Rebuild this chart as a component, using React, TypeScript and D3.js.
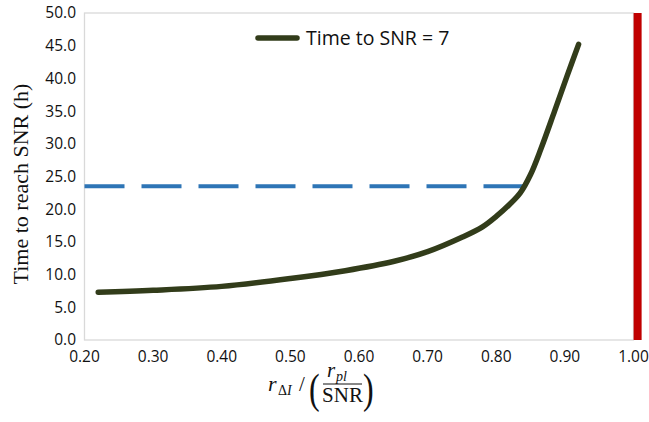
import React from "react";
import * as d3 from "d3";

const xTicks = [0.2, 0.3, 0.4, 0.5, 0.6, 0.7, 0.8, 0.9, 1.0];
const yTicks = [0, 5, 10, 15, 20, 25, 30, 35, 40, 45, 50];
const curveX = [0.22, 0.3, 0.4, 0.5, 0.58, 0.65, 0.7, 0.75, 0.78, 0.8, 0.82, 0.835, 0.85, 0.865, 0.885, 0.903, 0.92];
const curveY = [7.3, 7.6, 8.2, 9.4, 10.6, 12.0, 13.5, 15.7, 17.3, 18.9, 20.8, 22.5, 25.3, 29.2, 35.0, 40.3, 45.2];
const dashX = [0.2, 0.845];
const dashY = [23.5, 23.5];
const limitX = [1.006];
const legendLabel = "Time to SNR = 7";
const yTitle = "Time to reach SNR (h)";

export default function App() {
  const W = 649, H = 422;
  const left = 84.5, right = 633.5, top = 13, bottom = 340;
  const x = d3.scaleLinear().domain([0.2, 1.0]).range([left, right]);
  const y = d3.scaleLinear().domain([0, 50]).range([bottom, top]);
  const curveLine = d3.line<[number, number]>().x(d => x(d[0])).y(d => y(d[1])).curve(d3.curveCatmullRom.alpha(0.5));
  const straight = d3.line<[number, number]>().x(d => x(d[0])).y(d => y(d[1]));
  const curvePts: [number, number][] = curveX.map((v, i) => [v, curveY[i]]);
  const dashPts: [number, number][] = dashX.map((v, i) => [v, dashY[i]]);
  const sans = "'Open Sans', 'Noto Sans', sans-serif";
  const serif = "'Liberation Serif', 'DejaVu Serif', serif";
  return (
    <svg width={W} height={H} style={{ position: "absolute", left: 0, top: 0, background: "#fff" }}>
      <rect x={left} y={top} width={right - left} height={bottom - top} fill="none" stroke="#d9d9d9" strokeWidth={1.3} />
      {yTicks.map(t => (
        <text key={t} x={76} y={y(t)} dy="0.35em" textAnchor="end" fontFamily={sans} fontSize={15.5} fill="#111">
          {t.toFixed(1)}
        </text>
      ))}
      {xTicks.map(t => (
        <text key={t} x={x(t)} y={362} textAnchor="middle" fontFamily={sans} fontSize={15.5} fill="#111">
          {t.toFixed(2)}
        </text>
      ))}
      <path d={straight(dashPts) || ""} fill="none" stroke="#2e75b6" strokeWidth={4} strokeDasharray="40 17" />
      <path d={curveLine(curvePts) || ""} fill="none" stroke="#323c1a" strokeWidth={5.5} strokeLinecap="round" strokeLinejoin="round" />
      {limitX.map((v, i) => (
        <line key={i} x1={x(v)} x2={x(v)} y1={y(50)} y2={y(0)} stroke="#c00000" strokeWidth={8} />
      ))}
      <line x1={258} x2={297} y1={38} y2={38} stroke="#323c1a" strokeWidth={5.5} strokeLinecap="round" />
      <text x={306} y={45} fontFamily={sans} fontSize={19.5} fill="#111">{legendLabel}</text>
      <text transform="translate(28,184) rotate(-90)" textAnchor="middle" fontFamily={serif} fontSize={22} fill="#111">
        {yTitle}
      </text>
      <g fontFamily={serif} fill="#111">
        <text x={268} y={391} fontSize={22} fontStyle="italic">r</text>
        <text x={278} y={395} fontSize={14}>Δ<tspan fontStyle="italic">I</tspan></text>
        <text x={299} y={391} fontSize={21}>/</text>
        <text x={0} y={0} fontSize={32} transform="translate(309,403) scale(1,1.35)">(</text>
        <text x={327} y={377} fontSize={21} fontStyle="italic">r</text>
        <text x={336} y={381} fontSize={14} fontStyle="italic">pl</text>
        <line x1={323} x2={362} y1={384} y2={384} stroke="#111" strokeWidth={1} />
        <text x={342.5} y={402} fontSize={21} textAnchor="middle">SNR</text>
        <text x={0} y={0} fontSize={32} transform="translate(363,403) scale(1,1.35)">)</text>
      </g>
    </svg>
  );
}
